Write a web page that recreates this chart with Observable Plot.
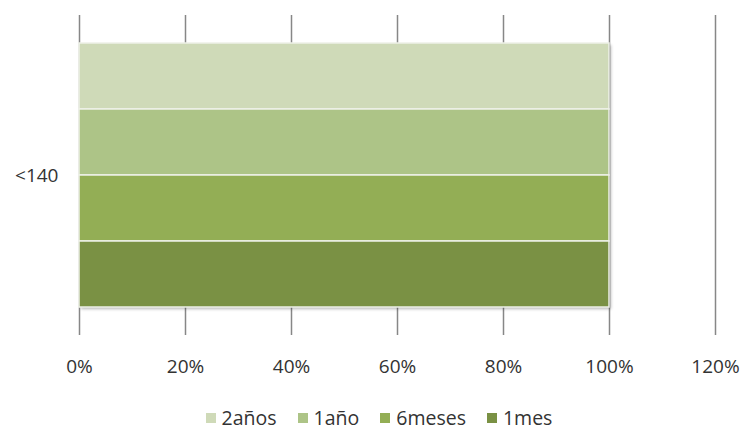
<!DOCTYPE html>
<html>
<head>
<meta charset="utf-8">
<script src="https://cdn.jsdelivr.net/npm/d3@7"></script>
<script src="https://cdn.jsdelivr.net/npm/@observablehq/plot@0.6"></script>
<style>
  html, body { margin: 0; padding: 0; background: #fff; }
  #chart { width: 744px; }
  .legend {
    display: flex; justify-content: center; align-items: center;
    font-family: "Open Sans", sans-serif; font-size: 19.5px; color: #333;
    line-height: 27px; height: 27px; padding-top: 7px; padding-left: 14px;
  }
  .legend .item { display: flex; align-items: center; margin-right: 21px; }
  .legend .item:last-child { margin-right: 0; }
  .legend .sw { width: 10px; height: 10px; margin-right: 6px; }
</style>
</head>
<body>
<div id="chart"></div>
<script>
// Category, series and their percentages
const categories = ["<140"];
const seriesNames = ["2años", "1año", "6meses", "1mes"];
const seriesValues = [100, 100, 100, 100];
const xTicks = [0, 20, 40, 60, 80, 100, 120];
const seriesColors = ["#cfdab8", "#adc487", "#93ae55", "#7a9144"];

const rows = seriesNames.map((s, i) => ({category: categories[0], series: s, value: seriesValues[i]}));

const plot = Plot.plot({
  width: 744,
  height: 397,
  marginLeft: 79,
  marginRight: 29,
  marginTop: 15,
  marginBottom: 62,
  style: {fontFamily: "'Open Sans', sans-serif", fontSize: "19px", color: "#333", background: "#fff"},
  facet: {data: rows, y: "category"},
  fy: {axis: "left", label: null, padding: 0, tickSize: 0, tickPadding: 21},
  y: {domain: seriesNames, paddingInner: 0, paddingOuter: 0.415, axis: null},
  x: {domain: [0, 120], ticks: xTicks, tickFormat: d => d + "%", tickSize: 0, tickPadding: 24, label: null},
  color: {domain: seriesNames, range: seriesColors},
  marks: [
    Plot.ruleX(xTicks, {stroke: "#878787", strokeWidth: 1.5}),
    // soft drop shadow behind the bar block
    Plot.barX(rows, {x1: 0, x2: "value", y: "series", fill: "#000", fillOpacity: 0.28, dx: 2, dy: 2}),
    Plot.barX(rows, {x1: 0, x2: "value", y: "series", fill: "series", stroke: "#eef1e8", strokeWidth: 1.5})
  ]
});

// blur the shadow layer
const svg = d3.select(plot);
svg.insert("defs", ":first-child")
  .append("filter").attr("id", "soft").attr("x", "-10%").attr("y", "-10%").attr("width", "120%").attr("height", "120%")
  .append("feGaussianBlur").attr("stdDeviation", 1.6);
svg.selectAll("g[aria-label='bar']").filter((d, i) => i === 0).attr("filter", "url(#soft)");

document.getElementById("chart").appendChild(plot);

// legend below the chart
const legend = d3.select("#chart").append("div").attr("class", "legend");
seriesNames.forEach((s, i) => {
  const item = legend.append("div").attr("class", "item");
  item.append("div").attr("class", "sw").style("background", seriesColors[i]);
  item.append("span").text(s);
});
</script>
</body>
</html>
